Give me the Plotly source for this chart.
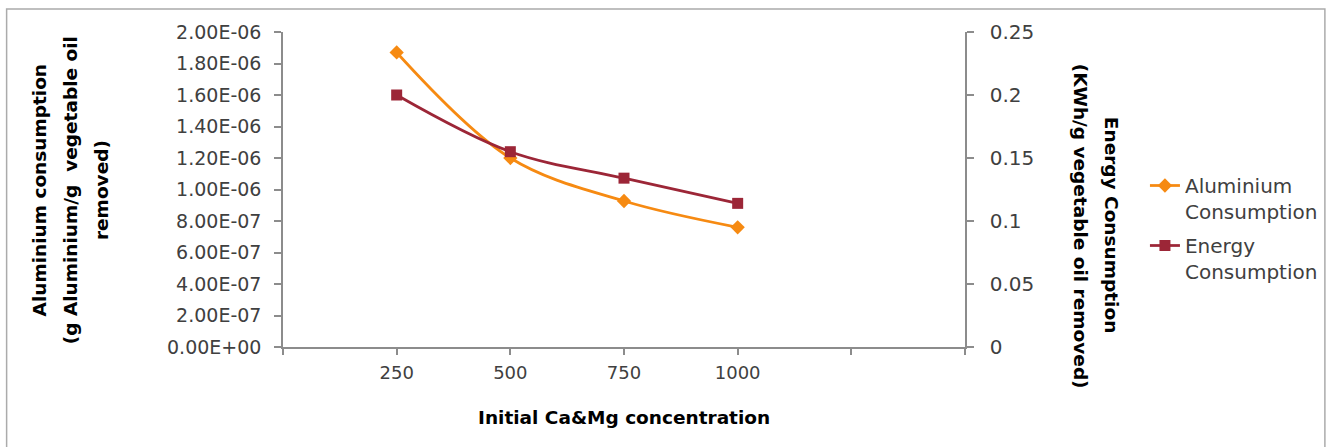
import plotly.graph_objects as go

# Data
concentration = [250, 500, 750, 1000]
aluminium_consumption = [1.87e-6, 1.20e-6, 9.27e-7, 7.60e-7]
energy_consumption = [0.200, 0.155, 0.134, 0.114]

x_tick_values = [0, 250, 500, 750, 1000, 1250, 1500]
x_tick_labels = ["", "250", "500", "750", "1000", "", ""]
left_tick_values = [0, 2e-7, 4e-7, 6e-7, 8e-7, 1e-6, 1.2e-6, 1.4e-6, 1.6e-6, 1.8e-6, 2e-6]
left_tick_labels = ["0.00E+00", "2.00E-07", "4.00E-07", "6.00E-07", "8.00E-07",
                    "1.00E-06", "1.20E-06", "1.40E-06", "1.60E-06", "1.80E-06", "2.00E-06"]
right_tick_values = [0, 0.05, 0.1, 0.15, 0.2, 0.25]
right_tick_labels = ["0", "0.05", "0.1", "0.15", "0.2", "0.25"]

# Layout geometry (pixels)
W, H = 1335, 447
L, R, T, B = 283, 366, 32, 100
PW, PH = W - L - R, H - T - B


def px_x(px):
    return (px - L) / PW


def px_y(py):
    return (H - B - py) / PH


FONT = "DejaVu Sans"
ORANGE = "#F68A12"
DARKRED = "#9C2637"
AXIS = "#8C8C8C"
TICKTXT = "#404040"

fig = go.Figure()
fig.add_trace(go.Scatter(
    x=concentration, y=aluminium_consumption, name="Aluminium<br>Consumption",
    mode="lines+markers", line=dict(color=ORANGE, width=2.75, shape="spline"),
    marker=dict(symbol="diamond", size=11, color=ORANGE),
    legendgroup="a", yaxis="y",
))
fig.add_trace(go.Scatter(
    x=concentration, y=energy_consumption, name="Energy<br>Consumption",
    mode="lines+markers", line=dict(color=DARKRED, width=2.75, shape="spline"),
    marker=dict(symbol="square", size=11, color=DARKRED),
    legendgroup="b", yaxis="y2",
))

fig.update_layout(
    width=W, height=H,
    margin=dict(l=L, r=R, t=T, b=B),
    paper_bgcolor="white", plot_bgcolor="white",
    font=dict(family=FONT, size=18, color=TICKTXT),
    xaxis=dict(
        range=[0, 1500], tickmode="array", tickvals=x_tick_values, ticktext=x_tick_labels,
        showgrid=False, zeroline=False, showline=True, linecolor=AXIS, linewidth=1.5,
        ticks="outside", ticklen=6, tickcolor=AXIS, tickwidth=1.5,
        tickfont=dict(family=FONT, size=18, color=TICKTXT), ticklabelstandoff=3,
    ),
    yaxis=dict(
        range=[0, 2e-6], tickmode="array", tickvals=left_tick_values, ticktext=left_tick_labels,
        showgrid=False, zeroline=False, showline=True, linecolor=AXIS, linewidth=1.5,
        ticks="outside", ticklen=7, tickcolor=AXIS, tickwidth=1.5,
        tickfont=dict(family=FONT, size=19, color=TICKTXT), ticklabelstandoff=9,
    ),
    yaxis2=dict(
        range=[0, 0.25], tickmode="array", tickvals=right_tick_values, ticktext=right_tick_labels,
        overlaying="y", side="right", anchor="x",
        showgrid=False, zeroline=False, showline=True, linecolor=AXIS, linewidth=1.5,
        ticks="outside", ticklen=7, tickcolor=AXIS, tickwidth=1.5,
        tickfont=dict(family=FONT, size=20, color=TICKTXT), ticklabelstandoff=12,
    ),
    legend=dict(
        x=px_x(1150), y=px_y(166), xanchor="left", yanchor="top",
        font=dict(family=FONT, size=20, color=TICKTXT),
        valign="top", tracegroupgap=5, bgcolor="rgba(0,0,0,0)",
    ),
    showlegend=True,
)

# Axis titles
title_font = dict(family=FONT, size=18.5, color="black")
annotations = [
    dict(text="<b>Initial Ca&Mg concentration</b>", x=px_x(626), y=px_y(417)),
    dict(text="<b>Aluminium consumption</b>", x=px_x(38), y=px_y(190), textangle=-90),
    dict(text="<b>(g Aluminium/g  vegetable oil</b>", x=px_x(69), y=px_y(190), textangle=-90),
    dict(text="<b>removed)</b>", x=px_x(100), y=px_y(190), textangle=-90),
    dict(text="<b>Energy Consumption</b>", x=px_x(1117), y=px_y(225), textangle=90),
    dict(text="<b>(KWh/g vegetable oil removed)</b>", x=px_x(1086), y=px_y(226), textangle=90),
]
for a in annotations:
    fig.add_annotation(xref="paper", yref="paper", showarrow=False,
                       xanchor="center", yanchor="middle", font=title_font, **a)

# Chart frame
fig.add_shape(type="rect", xref="paper", yref="paper",
              x0=px_x(5), x1=px_x(1331), y0=px_y(470), y1=px_y(9),
              line=dict(color="#ABABAB", width=1.5), fillcolor="rgba(0,0,0,0)", layer="below")

fig.write_html("out.html")
